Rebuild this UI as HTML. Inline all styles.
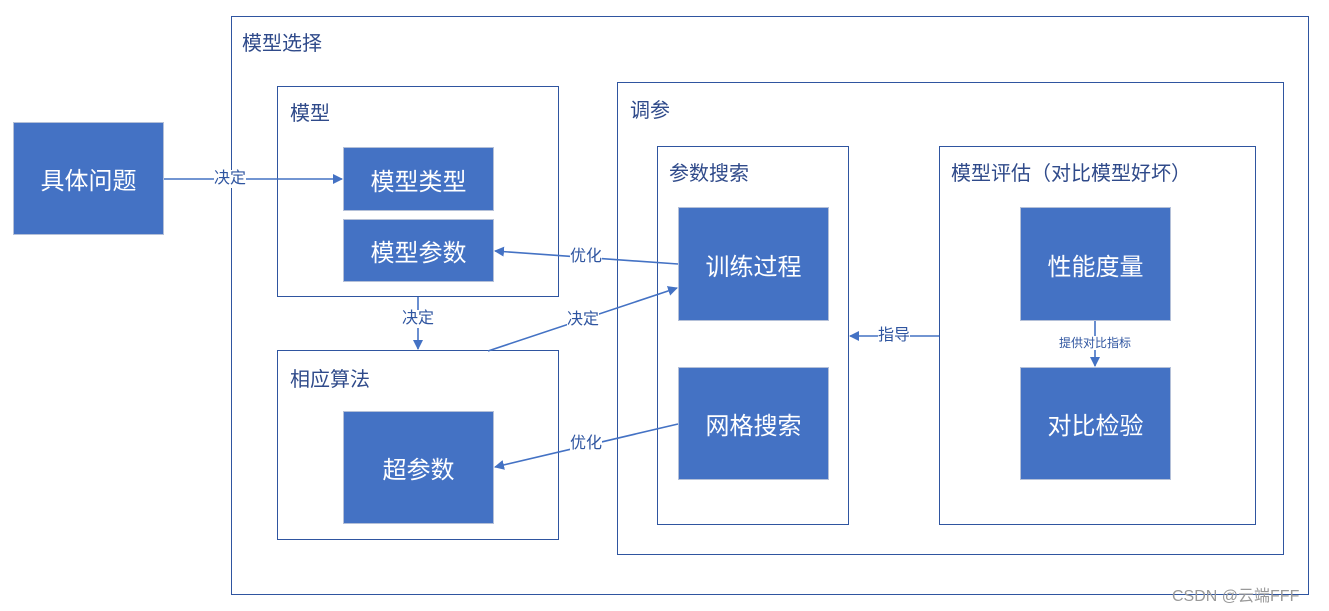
<!DOCTYPE html>
<html><head><meta charset="utf-8"><style>
body{margin:0;width:1329px;height:611px;background:#fff;position:relative;overflow:hidden;font-family:"Liberation Sans","Noto Sans CJK SC",sans-serif}
.b{position:absolute;border:1.5px solid #2f55a0;box-sizing:border-box;background:#fff}
.t{position:absolute;color:#2f4a8a;font-size:20px;white-space:nowrap}
.f{position:absolute;background:#4472c4;border:1px solid #b4c0d8;box-sizing:border-box;color:#fff;font-size:24px;display:flex;align-items:center;justify-content:center}
.l{position:absolute;color:#2f55a0;font-size:16px;background:#fff;transform:translate(-50%,-50%);white-space:nowrap;line-height:18px}
svg{position:absolute;left:0;top:0}
</style></head><body>
<div class="b" style="left:231px;top:16px;width:1078px;height:579px"></div>
<div class="t" style="left:242px;top:27px">模型选择</div>
<div class="f" style="left:13px;top:122px;width:151px;height:113px">具体问题</div>
<div class="b" style="left:277px;top:86px;width:282px;height:211px"></div>
<div class="t" style="left:290px;top:97px">模型</div>
<div class="f" style="left:343px;top:147px;width:151px;height:64px">模型类型</div>
<div class="f" style="left:343px;top:219px;width:151px;height:63px">模型参数</div>
<div class="b" style="left:277px;top:350px;width:282px;height:190px"></div>
<div class="t" style="left:290px;top:363px">相应算法</div>
<div class="f" style="left:343px;top:411px;width:151px;height:113px">超参数</div>
<div class="b" style="left:617px;top:82px;width:667px;height:473px"></div>
<div class="t" style="left:630px;top:94px">调参</div>
<div class="b" style="left:657px;top:146px;width:192px;height:379px"></div>
<div class="t" style="left:669px;top:157px">参数搜索</div>
<div class="f" style="left:678px;top:207px;width:151px;height:114px">训练过程</div>
<div class="f" style="left:678px;top:367px;width:151px;height:113px">网格搜索</div>
<div class="b" style="left:939px;top:146px;width:317px;height:379px"></div>
<div class="t" style="left:951px;top:157px">模型评估（对比模型好坏）</div>
<div class="f" style="left:1020px;top:207px;width:151px;height:114px">性能度量</div>
<div class="f" style="left:1020px;top:367px;width:151px;height:113px">对比检验</div>
<svg width="1329" height="611">
<defs><marker id="a" markerWidth="10" markerHeight="10" refX="9" refY="5" orient="auto" markerUnits="userSpaceOnUse"><path d="M0,0 L10,5 L0,10z" fill="#4472c4"/></marker></defs>
<g stroke="#4472c4" stroke-width="1.6" fill="none" marker-end="url(#a)">
<line x1="164" y1="179" x2="342" y2="179"/>
<line x1="678" y1="264" x2="495" y2="251"/>
<line x1="418" y1="297" x2="418" y2="349"/>
<line x1="488" y1="351" x2="677" y2="288"/>
<line x1="678" y1="424" x2="495" y2="467"/>
<line x1="939" y1="336" x2="850" y2="336"/>
<line x1="1095" y1="321" x2="1095" y2="366"/>
</g></svg>
<div class="l" style="left:230px;top:179px">决定</div>
<div class="l" style="left:586px;top:257px">优化</div>
<div class="l" style="left:418px;top:319px">决定</div>
<div class="l" style="left:583px;top:320px">决定</div>
<div class="l" style="left:586px;top:444px">优化</div>
<div class="l" style="left:894px;top:336px">指导</div>
<div class="l" style="left:1095px;top:343px;font-size:12px;line-height:14px">提供对比指标</div>
<div style="position:absolute;left:1172px;top:582px;font-size:16px;color:#999">CSDN @云端FFF</div>
</body></html>
